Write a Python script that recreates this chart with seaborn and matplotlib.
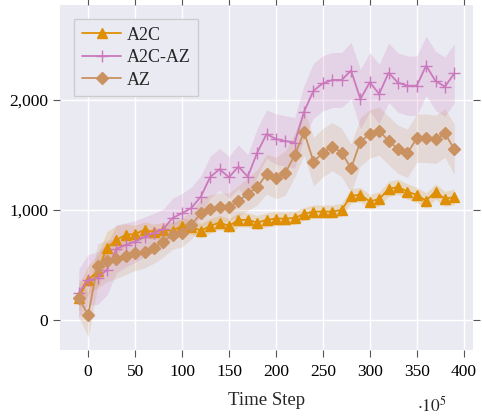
import numpy as np
import matplotlib
matplotlib.use("Agg")
import matplotlib.pyplot as plt
import seaborn as sns
from matplotlib.ticker import FuncFormatter

# time steps (x 10^5)
steps = list(range(-10, 400, 10))

a2c = [200, 364, 440, 655, 727, 773, 782, 818, 800, 818,
       810, 855, 845, 812, 855, 885, 855, 909, 909, 885,
       909, 921, 921, 927, 964, 985, 985, 985, 1000, 1127,
       1140, 1076, 1100, 1190, 1209, 1167, 1136, 1085, 1167, 1100, 1118]
a2c_err = [120, 130, 150, 150, 130, 100, 80, 75, 70, 70,
           70, 70, 65, 65, 65, 65, 65, 65, 65, 65,
           65, 65, 60, 60, 60, 60, 60, 60, 60, 65,
           65, 65, 65, 70, 70, 70, 70, 70, 70, 70, 70]

a2c_az = [245, 364, 380, 455, 645, 682, 712, 755, 790, 827,
          927, 970, 1018, 1121, 1300, 1370, 1297, 1394, 1303, 1520,
          1690, 1645, 1627, 1612, 1894, 2085, 2152, 2182, 2182, 2267,
          2009, 2161, 2055, 2248, 2158, 2130, 2130, 2312, 2173, 2121, 2242]
a2c_az_err = [220, 230, 240, 230, 220, 200, 190, 180, 180, 180,
              180, 180, 190, 190, 190, 190, 190, 200, 200, 220,
              220, 230, 230, 230, 240, 250, 250, 250, 250, 260,
              270, 270, 270, 270, 270, 270, 270, 270, 270, 270, 270]

az = [200, 45, 491, 536, 555, 582, 609, 621, 655, 712,
      773, 794, 864, 970, 1009, 1024, 1024, 1082, 1145, 1205,
      1327, 1290, 1336, 1500, 1709, 1439, 1521, 1576, 1521, 1379,
      1621, 1691, 1718, 1630, 1551, 1515, 1652, 1652, 1642, 1697, 1551]
az_err = [180, 200, 200, 190, 180, 170, 160, 150, 140, 140,
          130, 130, 130, 130, 130, 130, 130, 140, 150, 160,
          180, 190, 200, 200, 210, 220, 220, 220, 220, 220,
          220, 220, 220, 220, 220, 220, 220, 220, 220, 220, 230]

names = ["A2C", "A2C-AZ", "AZ"]
colors = ["#DE8F05", "#CC78BC", "#CA9161"]
markers = ["^", "+", "D"]

sns.set_theme(style="darkgrid")
plt.rcParams["font.family"] = ["Liberation Serif", "DejaVu Serif"]
plt.rcParams["mathtext.fontset"] = "stix"

fig = plt.figure(figsize=(4.82, 4.18), dpi=100)
ax = fig.add_axes([0.1245, 0.163, 0.857, 0.825])

series = [(a2c, a2c_err), (a2c_az, a2c_az_err), (az, az_err)]
for (vals, err), name, c, m in zip(series, names, colors, markers):
    lo = np.array(vals) - np.array(err)
    hi = np.array(vals) + np.array(err)
    ax.fill_between(steps, lo, hi, color=c, alpha=0.2, lw=0)
    ms = 8.5 if m == "+" else (7.5 if m == "^" else 6.5)
    sns.lineplot(x=steps, y=vals, ax=ax, color=c, marker=m, markersize=ms,
                 markeredgecolor=c, markeredgewidth=1.0, lw=1.3, label=name)

ax.set_xlim(-30, 410)
ax.set_ylim(-273, 2864)
ax.set_xticks(range(0, 401, 50))
ax.set_yticks([0, 1000, 2000])
ax.yaxis.set_major_formatter(FuncFormatter(lambda v, p: f"{int(v):,}"))
ax.tick_params(axis="both", which="major", labelsize=12.5, length=5, width=0.8,
               color="#555555", direction="out", top=True, right=True,
               bottom=True, left=True, labelcolor="black")
ax.tick_params(axis="x", pad=5)
for s in ax.spines.values():
    s.set_visible(False)
ax.grid(True, color="white", lw=1.0)
ax.set_xlabel("Time Step", fontsize=13.5, labelpad=9)
ax.set_ylabel("")
fig.text(0.866, 0.014, r"$\cdot 10^5$", fontsize=12.5)

leg = ax.legend(loc="upper left", fontsize=13, frameon=True, fancybox=False,
                handlelength=2.2, borderaxespad=0.8, labelspacing=0.3,
                handletextpad=0.3, borderpad=0.4)
leg.get_frame().set_facecolor("#EAEAF2")
leg.get_frame().set_edgecolor("#CCCCCC")
leg.get_frame().set_alpha(1.0)

fig.savefig("out.png", dpi=100)
